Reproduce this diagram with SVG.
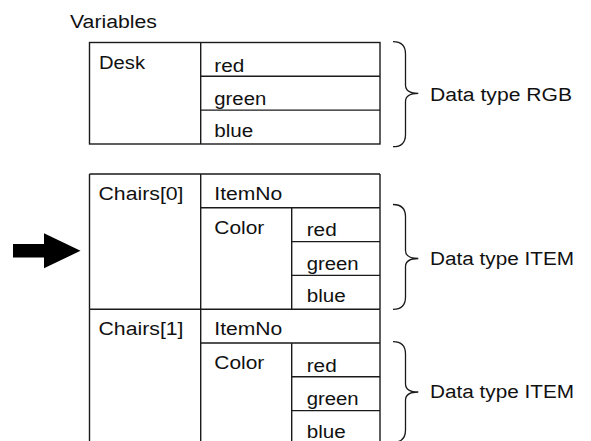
<svg xmlns="http://www.w3.org/2000/svg" width="591" height="441" viewBox="0 0 591 441">
<style>
.ln{stroke:#1a1a1a;stroke-width:1.4;fill:none}
.br{stroke:#1a1a1a;stroke-width:1.3;fill:none}
text{font-family:"Liberation Sans",Arial,sans-serif;font-size:18px;fill:#111;lengthAdjust:spacingAndGlyphs}
</style>
<rect width="591" height="441" fill="#fff"/>
<text x="70" y="28" textLength="87" lengthAdjust="spacingAndGlyphs">Variables</text>
<g id="desk">
<rect class="ln" x="89.5" y="42.5" width="290.5" height="101.5"/>
<path class="ln" d="M200.7 42.5V144M200.7 76.3H380M200.7 110.1H380"/>
<text x="99" y="68.5" textLength="46" lengthAdjust="spacingAndGlyphs">Desk</text>
<text x="214.3" y="71.5" textLength="30" lengthAdjust="spacingAndGlyphs">red</text>
<text x="214.3" y="104.8" textLength="52" lengthAdjust="spacingAndGlyphs">green</text>
<text x="214.3" y="137" textLength="39" lengthAdjust="spacingAndGlyphs">blue</text>
</g>
<g id="chairs0">
<path class="ln" d="M89.5 174H380M89.5 174V309.2M380 174V309.2M200.7 174V309.2M200.7 207.8H380M291.7 207.8V309.2M291.7 241.6H380M291.7 275.4H380M89.5 309.2H380"/>
<text x="98.5" y="200" textLength="85" lengthAdjust="spacingAndGlyphs">Chairs[0]</text>
<text x="214.3" y="200" textLength="68" lengthAdjust="spacingAndGlyphs">ItemNo</text>
<text x="214.3" y="233.8" textLength="50" lengthAdjust="spacingAndGlyphs">Color</text>
<text x="306.7" y="236.3" textLength="30" lengthAdjust="spacingAndGlyphs">red</text>
<text x="306.7" y="270" textLength="52" lengthAdjust="spacingAndGlyphs">green</text>
<text x="306.7" y="302.4" textLength="39" lengthAdjust="spacingAndGlyphs">blue</text>
</g>
<g id="chairs1">
<path class="ln" d="M89.5 309.2V442M380 309.2V442M200.7 309.2V442M200.7 343H380M291.7 343V442M291.7 376.8H380M291.7 410.6H380"/>
<text x="98.5" y="335.2" textLength="85" lengthAdjust="spacingAndGlyphs">Chairs[1]</text>
<text x="214.3" y="335.2" textLength="68" lengthAdjust="spacingAndGlyphs">ItemNo</text>
<text x="214.3" y="369" textLength="50" lengthAdjust="spacingAndGlyphs">Color</text>
<text x="306.7" y="371.5" textLength="30" lengthAdjust="spacingAndGlyphs">red</text>
<text x="306.7" y="405.3" textLength="52" lengthAdjust="spacingAndGlyphs">green</text>
<text x="306.7" y="437.6" textLength="39" lengthAdjust="spacingAndGlyphs">blue</text>
</g>
<g id="label-rgb">
<path class="br" d="M393 41.7Q405.5 41.7 405.5 54V85Q405.5 93.3 418.3 93.3Q405.5 93.3 405.5 101.6V134.4Q405.5 146.7 393 146.7"/>
<text x="430" y="101" textLength="142" lengthAdjust="spacingAndGlyphs">Data type RGB</text>
</g>
<g id="label-item0">
<path class="br" d="M393 204.5Q405.5 204.5 405.5 216.8V250.2Q405.5 258.5 418.3 258.5Q405.5 258.5 405.5 266.8V297Q405.5 309.3 393 309.3"/>
<text x="430" y="264.5" textLength="144" lengthAdjust="spacingAndGlyphs">Data type ITEM</text>
</g>
<g id="label-item1">
<path class="br" d="M393 341.7Q405.5 341.7 405.5 354V383.7Q405.5 392 418.3 392Q405.5 392 405.5 400.3V430Q405.5 442.3 393 442.3"/>
<text x="430" y="397.5" textLength="144" lengthAdjust="spacingAndGlyphs">Data type ITEM</text>
</g>
<g id="connectors">
<path d="M13 244H44V233.3L80.5 250.8L44 268.3V257.6H13Z" fill="#000"/>
</g>
</svg>
